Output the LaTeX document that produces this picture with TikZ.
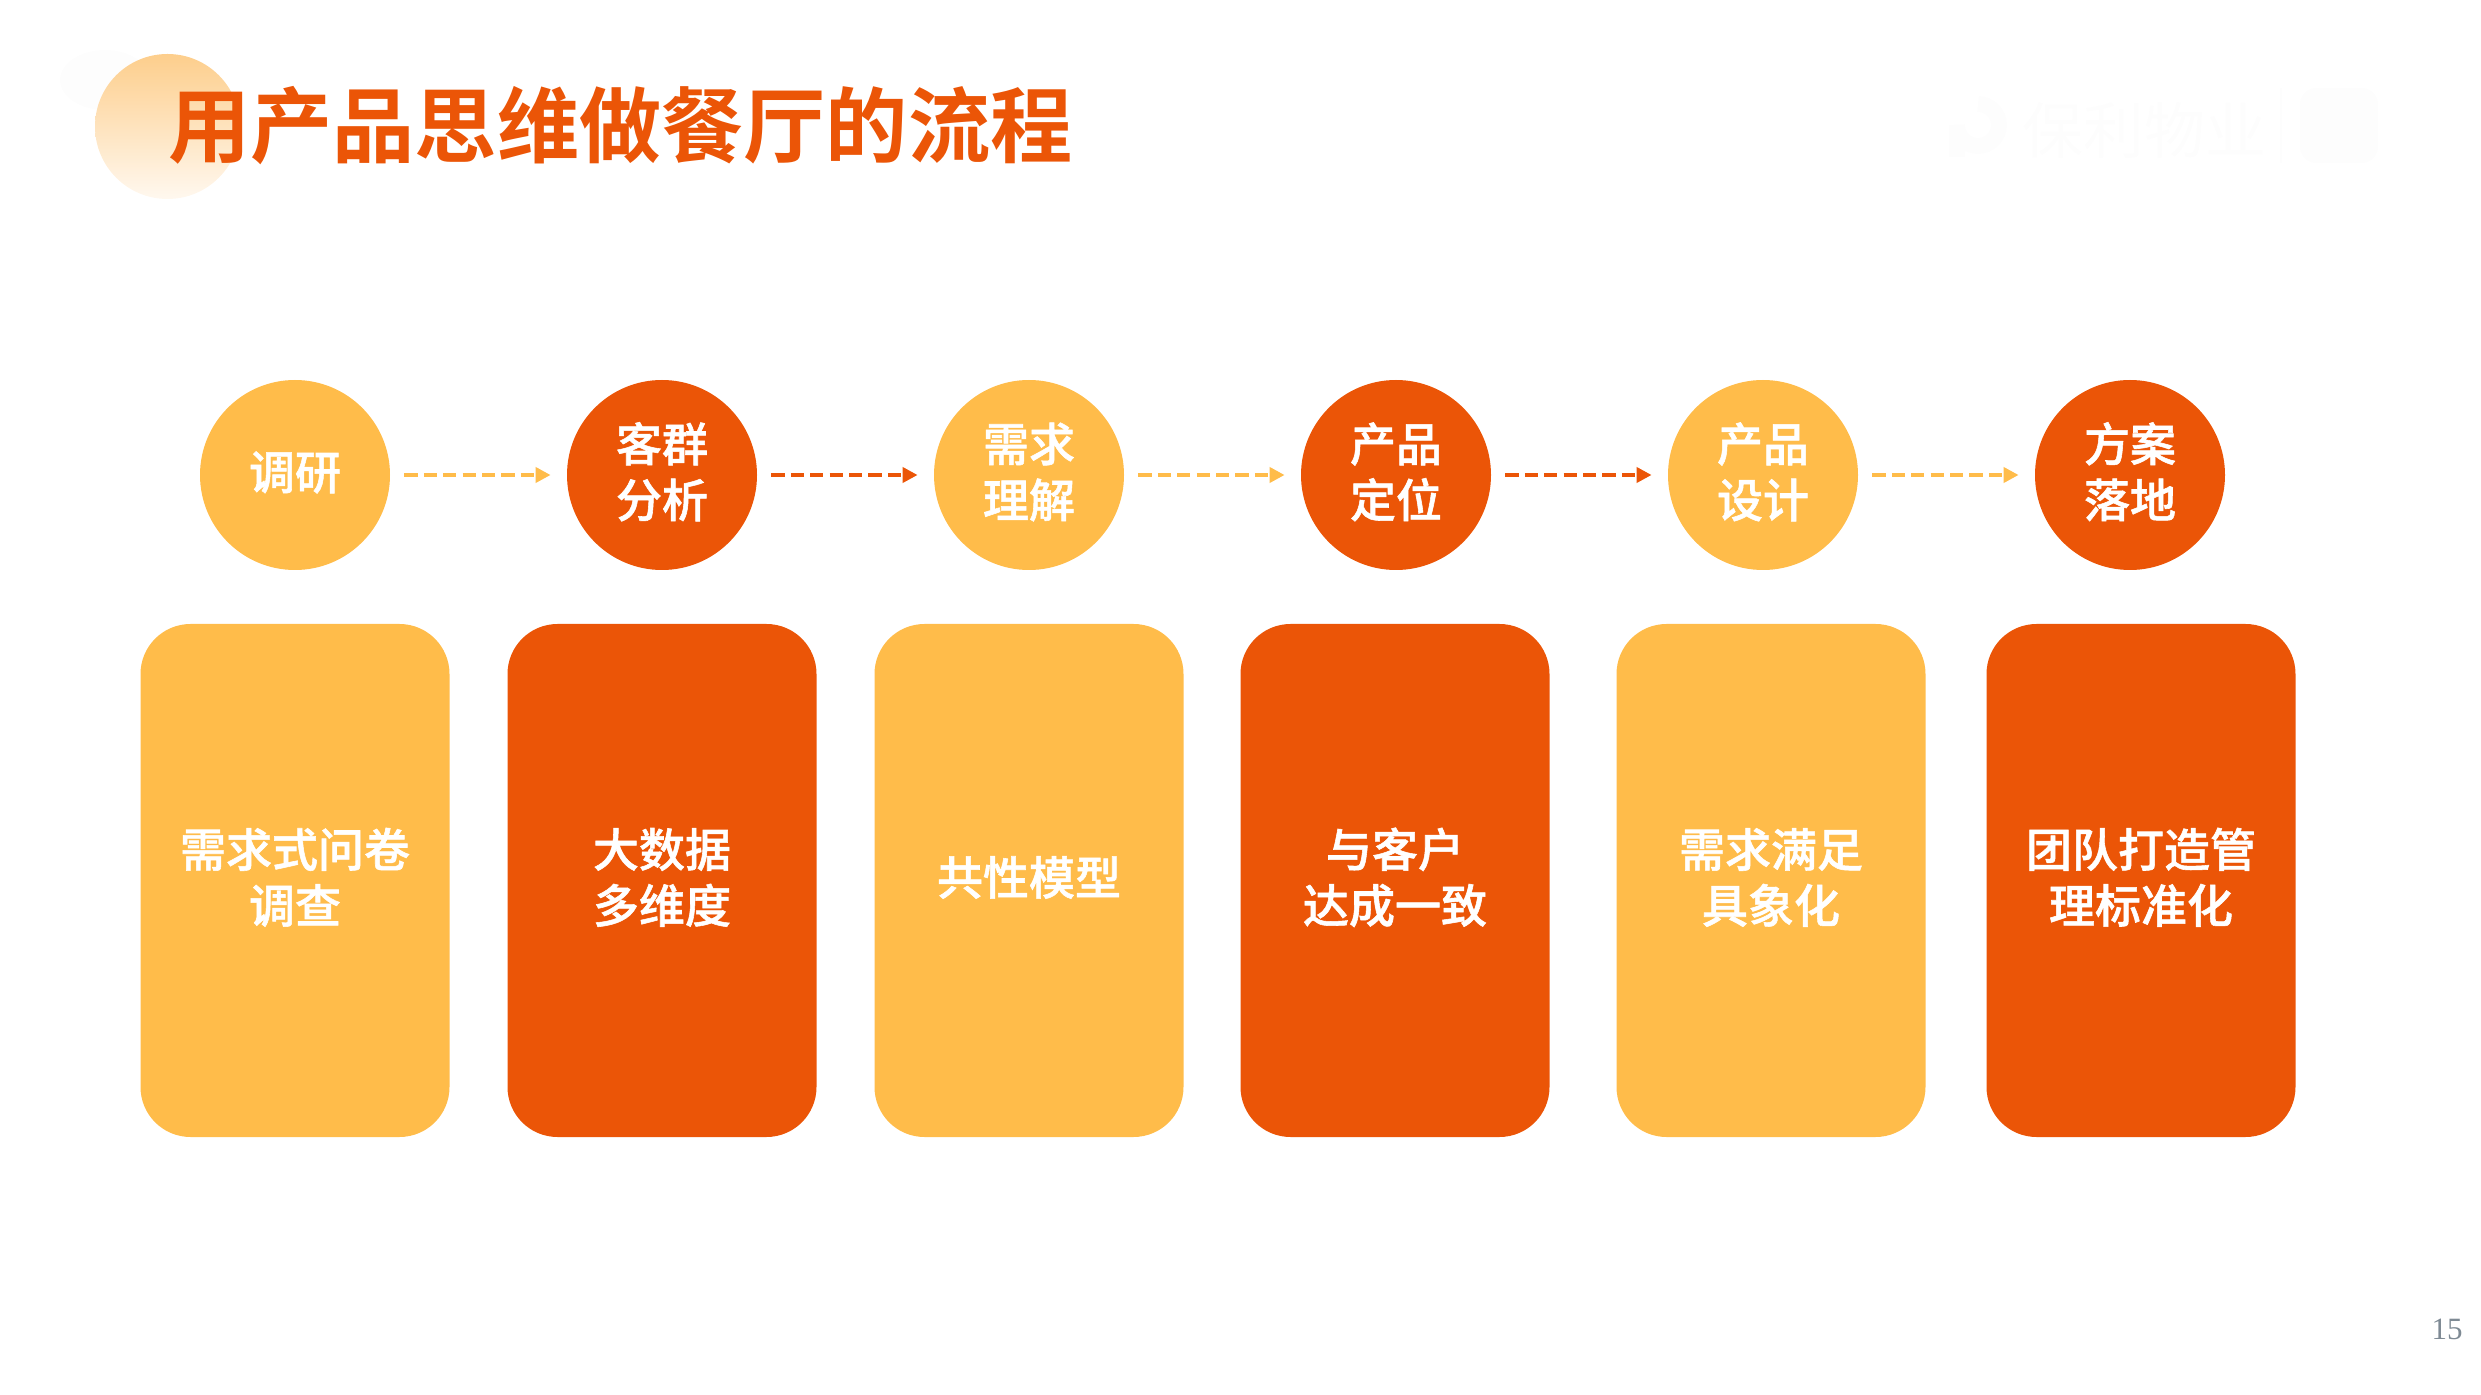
\documentclass[tikz,border=0pt]{standalone}
\usepackage{fontspec}
\setmainfont{Noto Sans CJK SC}[BoldFont={Noto Sans CJK SC Bold}]
\newfontfamily\labelfont{Noto Sans CJK SC Medium}[FakeBold=1.2]
\newfontfamily\numfont{Liberation Serif}
\usetikzlibrary{arrows.meta}
\definecolor{orng}{HTML}{EB5507}
\definecolor{yllw}{HTML}{FFBC4A}
\definecolor{ghost}{HTML}{FDFDFD}
\definecolor{pagenum}{HTML}{7E8A94}
\definecolor{glow}{HTML}{FDCE8C}
\definecolor{glowend}{HTML}{FFF8EF}
\newcommand{\lblline}[1]{\raisebox{0pt}[18pt][3.6pt]{#1}}
\tikzset{
  x=0.5pt,y=-0.5pt,
  cjktext/.style={text=white,align=center,inner sep=0pt,font=\labelfont\fontsize{23}{28}\selectfont},
  disc/.style={circle,minimum size=95pt,inner sep=0pt,cjktext},
  card/.style={rectangle,rounded corners=25pt,minimum width=154.5pt,minimum height=256.5pt,inner sep=0pt,cjktext},
  flow/.style={line width=2.4pt,dash pattern=on 6.6pt off 3.1pt,shorten <=7pt,shorten >=8pt,
    -{Triangle[length=7.5pt,width=7.5pt,sep=0pt]}},
}
\begin{document}
\begin{tikzpicture}
\useasboundingbox (0,0) rectangle (2481,1395);
% title
\fill[ghost] (105,80) ellipse[x radius=45,y radius=30];
\shade[shading=axis,shading angle=45,top color=glow,bottom color=glowend] (167.5,126.5) circle[radius=72.5];
\node[anchor=west,inner sep=0pt,text=orng,font=\bfseries\fontsize{41.1}{41.1}\selectfont] (title) at (168,126) {用产品思维做餐厅的流程};
% faint logo
\draw[ghost,line width=8pt] (1957,157) -- (1957,125) arc[start angle=180,end angle=0,radius=21] arc[start angle=0,end angle=-90,radius=21];
\node[anchor=west,inner sep=0pt,text=ghost,font=\fontsize{30.5}{30.5}\selectfont] (logotext) at (2022,130) {保利物业};
\draw[ghost,line width=1pt] (2281,88) -- (2281,163);
\fill[ghost,rounded corners=8pt] (2300,88) rectangle (2378,163);
% circles
\node[disc,fill=yllw] (c1) at (295,475) {\lblline{调研}};
\node[disc,fill=orng] (c2) at (662,475) {\lblline{客群}\\\lblline{分析}};
\node[disc,fill=yllw] (c3) at (1029,475) {\lblline{需求}\\\lblline{理解}};
\node[disc,fill=orng] (c4) at (1396,475) {\lblline{产品}\\\lblline{定位}};
\node[disc,fill=yllw] (c5) at (1763,475) {\lblline{产品}\\\lblline{设计}};
\node[disc,fill=orng] (c6) at (2130,475) {\lblline{方案}\\\lblline{落地}};
% arrows
\draw[flow,yllw] (c1) -- (c2);
\draw[flow,orng] (c2) -- (c3);
\draw[flow,yllw] (c3) -- (c4);
\draw[flow,orng] (c4) -- (c5);
\draw[flow,yllw] (c5) -- (c6);
% cards
\node[card,fill=yllw] (b1) at (295,880.5) {\lblline{需求式问卷}\\\lblline{调查}};
\node[card,fill=orng] (b2) at (662,880.5) {\lblline{大数据}\\\lblline{多维度}};
\node[card,fill=yllw] (b3) at (1029,880.5) {\lblline{共性模型}};
\node[card,fill=orng] (b4) at (1395,880.5) {\lblline{与客户}\\\lblline{达成一致}};
\node[card,fill=yllw] (b5) at (1771,880.5) {\lblline{需求满足}\\\lblline{具象化}};
\node[card,fill=orng] (b6) at (2141,880.5) {\lblline{团队打造管}\\\lblline{理标准化}};
% page number
\node[anchor=center,inner sep=0pt,text=pagenum,font=\numfont\fontsize{15.5}{15.5}\selectfont] (page) at (2447,1329) {15};
\end{tikzpicture}
\end{document}
